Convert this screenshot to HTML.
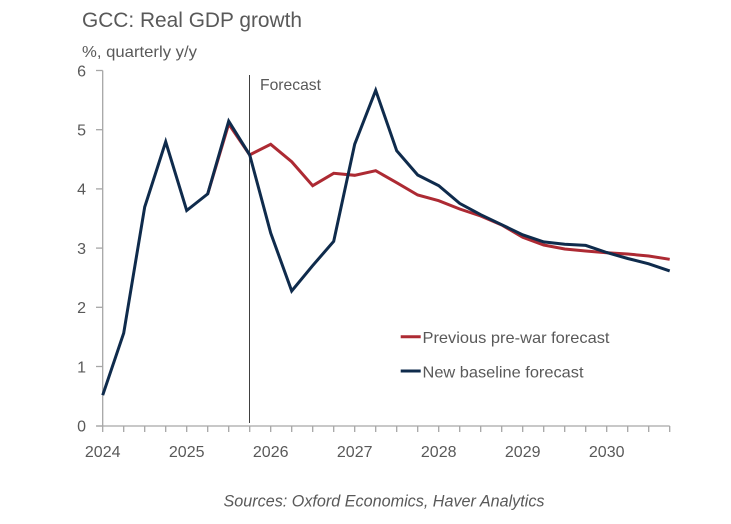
<!DOCTYPE html>
<html>
<head>
<meta charset="utf-8">
<style>
  html,body{margin:0;padding:0;background:#ffffff;}
  body{width:731px;height:524px;overflow:hidden;}
  svg{display:block;}
  text{font-family:"Liberation Sans",sans-serif;fill:#595959;}
</style>
</head>
<body>
<svg width="731" height="524" viewBox="0 0 731 524" xmlns="http://www.w3.org/2000/svg">
  <rect width="731" height="524" fill="#ffffff"/>

  <!-- Title -->
  <text x="82" y="27" font-size="21" textLength="220" lengthAdjust="spacingAndGlyphs">GCC: Real GDP growth</text>
  <text x="82" y="57" font-size="16" textLength="115" lengthAdjust="spacingAndGlyphs">%, quarterly y/y</text>

  <!-- Y axis -->
  <g stroke="#a6a6a6" stroke-width="1.3">
    <line x1="102.7" y1="70.5" x2="102.7" y2="426"/>
    <line x1="96" y1="70.5" x2="102.7" y2="70.5"/>
    <line x1="96" y1="129.7" x2="102.7" y2="129.7"/>
    <line x1="96" y1="188.9" x2="102.7" y2="188.9"/>
    <line x1="96" y1="248.1" x2="102.7" y2="248.1"/>
    <line x1="96" y1="307.3" x2="102.7" y2="307.3"/>
    <line x1="96" y1="366.5" x2="102.7" y2="366.5"/>
    <line x1="96" y1="426" x2="102.7" y2="426"/>
  </g>
  <g font-size="16" text-anchor="end">
    <text x="86" y="76.5">6</text>
    <text x="86" y="135.5">5</text>
    <text x="86" y="194.7">4</text>
    <text x="86" y="253.9">3</text>
    <text x="86" y="313.1">2</text>
    <text x="86" y="372.3">1</text>
    <text x="86" y="431.6">0</text>
  </g>

  <!-- X axis -->
  <g stroke="#a6a6a6" stroke-width="1.3">
    <line x1="96.5" y1="426" x2="669.7" y2="426"/>
    <line x1="102.7" y1="426" x2="102.7" y2="432"/>
    <line x1="123.7" y1="426" x2="123.7" y2="432"/>
    <line x1="144.7" y1="426" x2="144.7" y2="432"/>
    <line x1="165.7" y1="426" x2="165.7" y2="432"/>
    <line x1="186.7" y1="426" x2="186.7" y2="432"/>
    <line x1="207.7" y1="426" x2="207.7" y2="432"/>
    <line x1="228.7" y1="426" x2="228.7" y2="432"/>
    <line x1="249.7" y1="426" x2="249.7" y2="432"/>
    <line x1="270.7" y1="426" x2="270.7" y2="432"/>
    <line x1="291.7" y1="426" x2="291.7" y2="432"/>
    <line x1="312.7" y1="426" x2="312.7" y2="432"/>
    <line x1="333.7" y1="426" x2="333.7" y2="432"/>
    <line x1="354.7" y1="426" x2="354.7" y2="432"/>
    <line x1="375.7" y1="426" x2="375.7" y2="432"/>
    <line x1="396.7" y1="426" x2="396.7" y2="432"/>
    <line x1="417.7" y1="426" x2="417.7" y2="432"/>
    <line x1="438.7" y1="426" x2="438.7" y2="432"/>
    <line x1="459.7" y1="426" x2="459.7" y2="432"/>
    <line x1="480.7" y1="426" x2="480.7" y2="432"/>
    <line x1="501.7" y1="426" x2="501.7" y2="432"/>
    <line x1="522.7" y1="426" x2="522.7" y2="432"/>
    <line x1="543.7" y1="426" x2="543.7" y2="432"/>
    <line x1="564.7" y1="426" x2="564.7" y2="432"/>
    <line x1="585.7" y1="426" x2="585.7" y2="432"/>
    <line x1="606.7" y1="426" x2="606.7" y2="432"/>
    <line x1="627.7" y1="426" x2="627.7" y2="432"/>
    <line x1="648.7" y1="426" x2="648.7" y2="432"/>
    <line x1="669.7" y1="426" x2="669.7" y2="432"/>
  </g>
  <g font-size="16" text-anchor="middle">
    <text x="102.7" y="457">2024</text>
    <text x="186.7" y="457">2025</text>
    <text x="270.7" y="457">2026</text>
    <text x="354.7" y="457">2027</text>
    <text x="438.7" y="457">2028</text>
    <text x="522.7" y="457">2029</text>
    <text x="606.7" y="457">2030</text>
  </g>

  <!-- Forecast marker -->
  <line x1="249.5" y1="75" x2="249.5" y2="423" stroke="#404040" stroke-width="1"/>
  <text x="260" y="90" font-size="16" textLength="61" lengthAdjust="spacingAndGlyphs">Forecast</text>

  <!-- Previous pre-war forecast (red) -->
  <polyline fill="none" stroke="#ad2a33" stroke-width="3" stroke-linejoin="miter" stroke-miterlimit="10"
    points="207.7,193.9 228.7,124 249.7,154.9 270.7,144.3 291.7,161.7 312.7,185.7 333.7,173.3 354.7,175.3 375.7,170.7 396.7,182.7 417.7,195 438.7,200.7 459.7,209 480.7,216 501.7,225 522.7,237.3 543.7,245 564.7,249 585.7,251 606.7,252.7 627.7,254 648.7,256 669.7,259.3"/>

  <!-- New baseline forecast (navy) -->
  <polyline fill="none" stroke="#0f2b4c" stroke-width="3" stroke-linejoin="miter" stroke-miterlimit="10"
    points="102.7,395.2 123.7,333.1 144.7,207 165.7,141.8 186.7,210.5 207.7,193.9 228.7,121.1 249.7,154.9 270.7,233 291.7,291 312.7,265.6 333.7,241.3 354.7,144.2 375.7,90.3 396.7,150.7 417.7,175 438.7,185.6 459.7,203.4 480.7,214.7 501.7,224.7 522.7,234.8 543.7,241.9 564.7,244.3 585.7,245.4 606.7,252.5 627.7,258.5 648.7,263.8 669.7,270.9"/>

  <!-- Legend -->
  <line x1="400.7" y1="336.7" x2="420.7" y2="336.7" stroke="#ad2a33" stroke-width="3"/>
  <text x="422.5" y="343" font-size="16" textLength="187" lengthAdjust="spacingAndGlyphs">Previous pre-war forecast</text>
  <line x1="400.7" y1="371" x2="420.7" y2="371" stroke="#0f2b4c" stroke-width="3"/>
  <text x="422.5" y="377.3" font-size="16" textLength="161" lengthAdjust="spacingAndGlyphs">New baseline forecast</text>

  <!-- Source -->
  <text x="223.5" y="506.5" font-size="16.5" font-style="italic" textLength="321" lengthAdjust="spacingAndGlyphs">Sources: Oxford Economics, Haver Analytics</text>
</svg>
</body>
</html>
